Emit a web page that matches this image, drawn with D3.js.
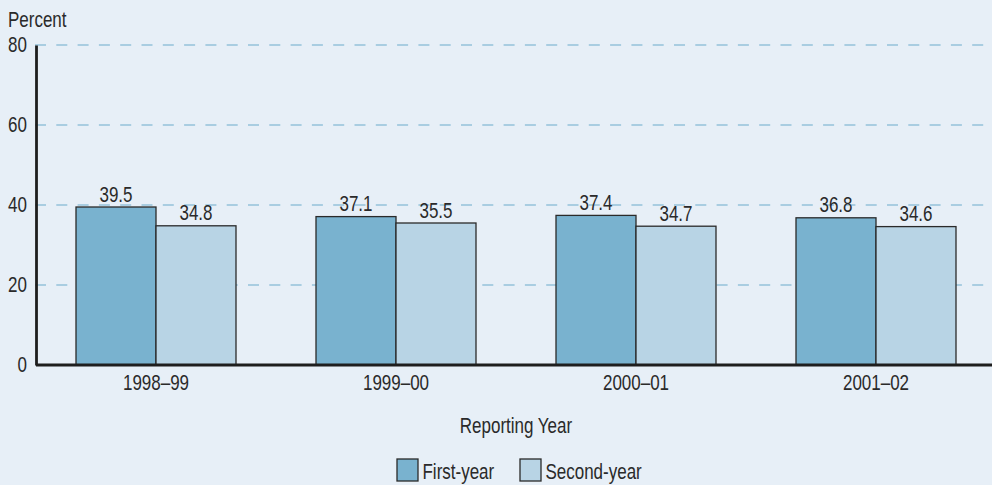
<!DOCTYPE html>
<html><head><meta charset="utf-8">
<script src="https://cdn.jsdelivr.net/npm/d3@7"></script>
<style>
html,body{margin:0;padding:0;background:#e7eff7;}
svg{display:block;}
text{font-family:"Liberation Sans",Arial,sans-serif;fill:#2a2a2a;}
</style></head>
<body>
<svg id="chart" width="992" height="485"></svg>
<script>
const categories = ["1998–99","1999–00","2000–01","2001–02"];
const seriesNames = ["First-year","Second-year"];
const firstYear = [39.5, 37.1, 37.4, 36.8];
const secondYear = [34.8, 35.5, 34.7, 34.6];
const yTicks = [0, 20, 40, 60, 80];
const colors = ["#79b2cf", "#b8d4e5"];

(function () {
const svg = d3.select("#chart");
const W = 992, H = 485;
const mLeft = 36, mRight = 996, mTop = 45, mBottom = 365;
const FS = 21.5, SX = 0.79;

function narrow(sel, x, y) {
  sel.attr("x", 0).attr("y", 0)
     .attr("transform", `translate(${x},${y}) scale(${SX},1)`)
     .attr("font-size", FS);
  return sel;
}

svg.append("rect").attr("width", W).attr("height", H).attr("fill", "#e7eff7");

const x0 = d3.scaleBand().domain(categories).range([mLeft, mRight]).padding(0);
const x1 = d3.scaleBand().domain(seriesNames).range([0, x0.bandwidth()]).paddingInner(0).paddingOuter(0.5);
const y = d3.scaleLinear().domain([0, 80]).range([mBottom, mTop]);

svg.append("g").selectAll("line").data(yTicks.filter(d => d > 0)).join("line")
  .attr("x1", mLeft - 1).attr("x2", W)
  .attr("y1", d => y(d)).attr("y2", d => y(d))
  .attr("stroke", "#a9cde1").attr("stroke-width", 2)
  .attr("stroke-dasharray", "11,10.3");

const data = categories.map((c, i) => ({cat: c, vals: [firstYear[i], secondYear[i]]}));

const g = svg.append("g").selectAll("g").data(data).join("g")
  .attr("transform", d => `translate(${x0(d.cat)},0)`);

const items = d => d.vals.map((v, j) => ({s: seriesNames[j], v, j}));

g.selectAll("rect").data(items).join("rect")
  .attr("x", d => x1(d.s)).attr("width", x1.bandwidth())
  .attr("y", d => y(d.v)).attr("height", d => y(0) - y(d.v))
  .attr("fill", d => colors[d.j]).attr("stroke", "#2a2a2a").attr("stroke-width", 1.3);

g.selectAll("text").data(items).join("text")
  .attr("text-anchor", "middle")
  .text(d => d.v.toFixed(1))
  .each(function (d) { narrow(d3.select(this), x1(d.s) + x1.bandwidth() / 2, y(d.v) - 5.5); });

const yAxis = svg.append("g").attr("transform", `translate(${mLeft},0)`)
  .call(d3.axisLeft(y).tickValues(yTicks).tickSize(0).tickPadding(11.5));
yAxis.select(".domain").attr("stroke", "#1e1e1e").attr("stroke-width", 2.8);
yAxis.selectAll(".tick text").attr("font-size", FS).attr("font-family", null).attr("fill", "#2a2a2a")
  .attr("transform", `scale(${SX},1)`);

const xAxis = svg.append("g").attr("transform", `translate(0,${mBottom})`)
  .call(d3.axisBottom(x0).tickSize(0).tickPadding(10));
xAxis.select(".domain").attr("d", `M${mLeft},0H${W}`).attr("stroke", "#1e1e1e").attr("stroke-width", 2.8);
xAxis.selectAll(".tick text").attr("font-size", FS).attr("font-family", null).attr("fill", "#2a2a2a")
  .attr("transform", `scale(${SX},1)`);

narrow(svg.append("text").text("Percent"), 8, 26.5);
narrow(svg.append("text").attr("text-anchor", "middle").text("Reporting Year"), (mLeft + mRight) / 2, 433);

const legX = [397, 520];
const leg = svg.append("g").selectAll("g").data(seriesNames).join("g")
  .attr("transform", (d, i) => `translate(${legX[i]},459)`);
leg.append("rect").attr("width", 21).attr("height", 22)
  .attr("fill", (d, i) => colors[i]).attr("stroke", "#2a2a2a").attr("stroke-width", 1.3);
leg.append("text").text(d => d).each(function () { narrow(d3.select(this), 25.5, 20); });
})();
</script>
</body></html>
